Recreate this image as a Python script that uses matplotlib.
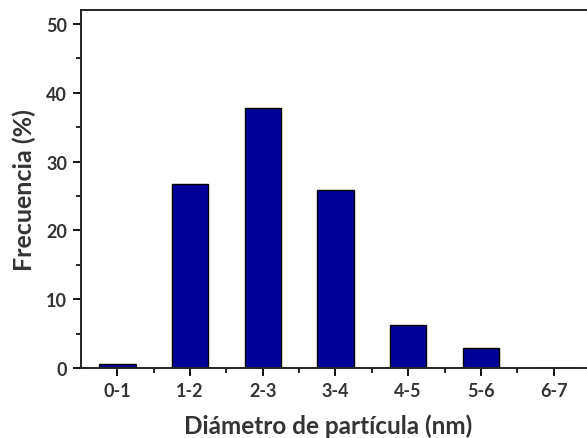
import matplotlib.pyplot as plt
from matplotlib.ticker import MultipleLocator

categories = ["0-1", "1-2", "2-3", "3-4", "4-5", "5-6", "6-7"]
frecuencia = [0.6, 26.8, 37.7, 25.9, 6.3, 3.0, 0.0]

BAR_COLOR = "#000099"
TEXT_COLOR = "#333333"

plt.rcParams["font.family"] = ["Lato", "DejaVu Sans"]

fig = plt.figure(figsize=(5.87, 4.39), dpi=100)
ax = fig.add_axes([0.138, 0.159, 0.867, 0.816])

positions = list(range(len(categories)))
ax.bar(positions, frecuencia, width=0.5, color=BAR_COLOR, edgecolor="black", linewidth=1.0)

ax.set_xlim(-0.5, 6.5)
ax.set_ylim(0, 52)
ax.set_xticks(positions)
ax.set_xticklabels(categories)
ax.xaxis.set_minor_locator(plt.FixedLocator([p + 0.5 for p in positions[:-1]]))
ax.yaxis.set_major_locator(MultipleLocator(10))
ax.yaxis.set_minor_locator(MultipleLocator(5))

for side in ["left", "bottom", "top"]:
    ax.spines[side].set_linewidth(1.4)
    ax.spines[side].set_color("#222222")
ax.spines["right"].set_visible(False)

ax.tick_params(which="major", direction="out", length=6, width=1.3, labelsize=13,
               labelcolor=TEXT_COLOR, pad=4)
ax.tick_params(which="minor", direction="out", length=3.5, width=1.2)
for lbl in ax.get_xticklabels() + ax.get_yticklabels():
    lbl.set_fontweight("bold")

ax.set_ylabel("Frecuencia (%)", fontsize=18, fontweight="bold", color=TEXT_COLOR, labelpad=7)
ax.set_xlabel("Diámetro de partícula (nm)", fontsize=17.5, fontweight="bold", color=TEXT_COLOR, labelpad=10)
ax.xaxis.label.set_x(0.486)

fig.savefig("out.png", dpi=100)
